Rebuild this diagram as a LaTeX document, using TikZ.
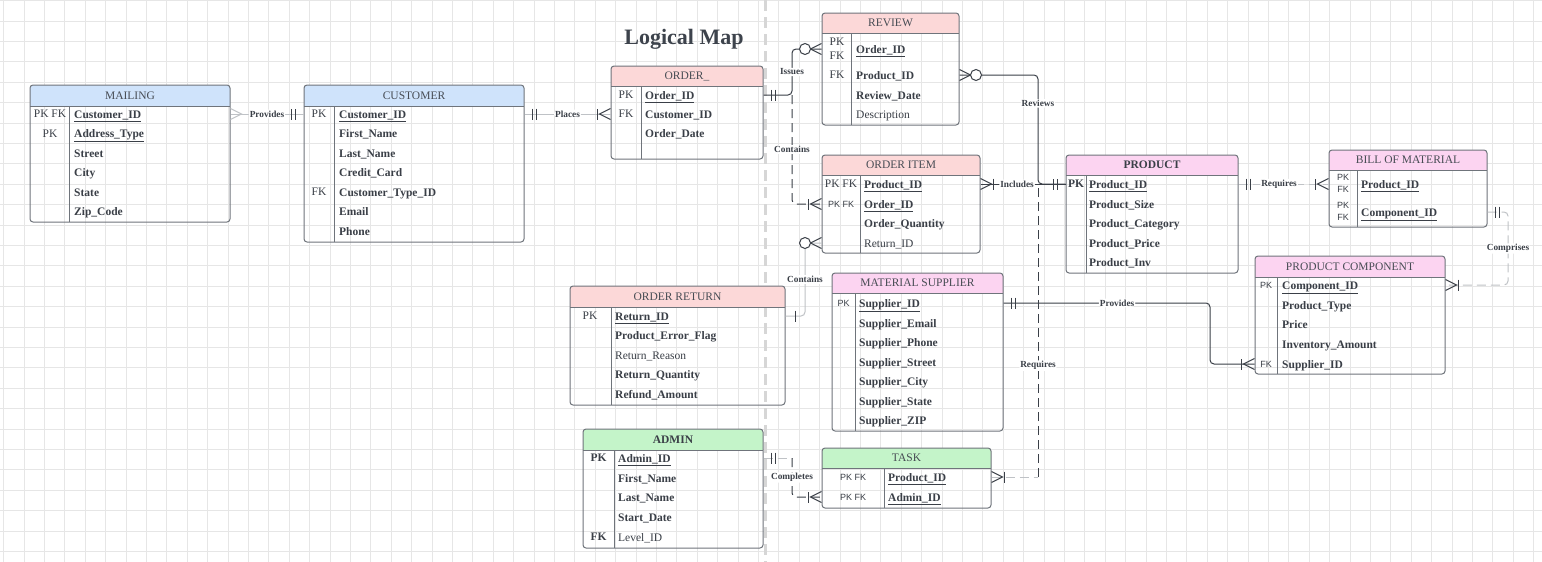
\documentclass[tikz,border=0pt]{standalone}
\usepackage{fontspec}
\setmainfont{Liberation Serif}
\setsansfont{Liberation Sans}
\usetikzlibrary{fit}
\definecolor{txt}{HTML}{3A3F47}
\definecolor{hdrtxt}{HTML}{474C54}
\definecolor{titlec}{HTML}{3D434C}
\definecolor{bord}{HTML}{6F747B}
\definecolor{hblue}{HTML}{CFE3FB}
\definecolor{hred}{HTML}{FCD8D8}
\definecolor{hmag}{HTML}{FCD4F1}
\definecolor{hgreen}{HTML}{C4F4C9}
\definecolor{lnd}{HTML}{3A3F47}
\definecolor{lnl}{HTML}{BFC2C6}
\definecolor{gridc}{HTML}{E6E6E6}
\definecolor{sepc}{HTML}{D6D6D6}
\newcommand\fsA{\fontsize{11.5}{13}\selectfont}
\newcommand\ertab[8]{%
  \fill[#8] (#2,#6) [rounded corners=3pt] -- (#2,#3) -- (#4,#3) [sharp corners] -- (#4,#6) -- cycle;
  \node[fit={(#2,#3) (#4,#5)}, inner sep=0pt, draw=bord, line width=1pt, rounded corners=3pt] (#1) {};
  \draw[bord, line width=1pt] (#2,#6) -- (#4,#6) (#7,#6) -- (#7,#5);
}
\newcommand\arow[5][attr]{\coordinate (#2) at (#3,#4); \node[#1] (#2-t) at (#3,{#4+4}) {#5};}
\tikzset{
 attr/.style={anchor=base west, inner sep=0pt, text=txt, font=\fsA\bfseries},
 attrn/.style={anchor=base west, inner sep=0pt, text=txt, font=\fsA},
 keyl/.style={inner sep=0pt, text=txt, font=\fsA},
 keyb/.style={inner sep=0pt, text=txt, font=\fsA\bfseries},
 keys/.style={inner sep=0pt, text=txt, font=\sffamily\fontsize{9}{10}\selectfont},
 hdr/.style={inner sep=0pt, text=hdrtxt, font=\fsA},
 hdrb/.style={inner sep=0pt, text=txt, font=\fsA\bfseries},
 lbl/.style={fill=white, inner sep=1pt, text=txt, font=\fontsize{9.3}{10}\selectfont\bfseries},
 cdark/.style={draw=lnd, line width=1pt, rounded corners=4pt},
 clight/.style={draw=lnl, line width=1pt, rounded corners=4pt},
 dsh/.style={dash pattern=on 9pt off 5pt},
 endm/.style={line width=1pt},
 pics/cfmany/.style={code={\draw (0,-5.5) -- (11,0) -- (0,5.5);}},
 pics/cfonemany/.style={code={\draw (0,-5.5) -- (11,0) -- (0,5.5); \draw (13,-5.5) -- (13,5.5);}},
 pics/cfzeromany/.style={code={\draw (0,-5.5) -- (11,0) -- (0,5.5); \draw[fill=white] (16.5,0) circle (5.5);}},
 pics/cfoneone/.style={code={\draw (8,-5.5) -- (8,5.5) (12,-5.5) -- (12,5.5);}},
 pics/cfone/.style={code={\draw (10,-5.5) -- (10,5.5);}},
}
\begin{document}
\begin{tikzpicture}[x=1pt,y=-1pt]
\useasboundingbox (0,0) rectangle (1542,562);
\fill[white] (0,0) rectangle (1542,562);
% grid
\foreach \i in {0,...,75} \draw[gridc, line width=0.8pt] ({3.5+20.4*\i},0) -- ({3.5+20.4*\i},562);
\foreach \j in {0,...,27} \draw[gridc, line width=0.8pt] (0,{0.6+20.4*\j}) -- (1542,{0.6+20.4*\j});
% separator
\draw[sepc, line width=3pt, dash pattern=on 11pt off 6pt] (765,0) -- (765,562);
% title
\node[font=\bfseries\fontsize{22}{26}\selectfont, text=titlec] (title) at (684,39) {Logical Map};

% MAILING
\ertab{mailing}{30}{85}{230}{222}{106}{69}{hblue}
\node[hdr] (mailing-h) at (130,95.5) {MAILING};
\node[keyl] (mail-k1) at (50,114) {PK FK};
\node[keyl] (mail-k2) at (50,133.5) {PK};
\arow{mail-a1}{74}{114}{\underline{Customer\_ID}}
\arow{mail-a2}{74}{133.5}{\underline{Address\_Type}}
\arow{mail-a3}{74}{153}{Street}
\arow{mail-a4}{74}{172.5}{City}
\arow{mail-a5}{74}{192}{State}
\arow{mail-a6}{74}{211.5}{Zip\_Code}

% CUSTOMER
\ertab{customer}{304}{85}{524}{242}{106}{334}{hblue}
\node[hdr] (customer-h) at (414,95.5) {CUSTOMER};
\node[keyl] (cust-k1) at (319,114) {PK};
\node[keyl] (cust-k5) at (319,192) {FK};
\arow{cust-a1}{339}{114}{\underline{Customer\_ID}}
\arow{cust-a2}{339}{133.5}{First\_Name}
\arow{cust-a3}{339}{153}{Last\_Name}
\arow{cust-a4}{339}{172.5}{Credit\_Card}
\arow{cust-a5}{339}{192}{Customer\_Type\_ID}
\arow{cust-a6}{339}{211.5}{Email}
\arow{cust-a7}{339}{231}{Phone}

% ORDER_
\ertab{order}{611}{66}{763}{159}{86}{641}{hred}
\node[hdr] (order-h) at (687,76) {ORDER\_};
\node[keyl] (ord-k1) at (626,95) {PK};
\node[keyl] (ord-k2) at (626,114) {FK};
\arow{ord-a1}{645}{95}{\underline{Order\_ID}}
\arow{ord-a2}{645}{114}{Customer\_ID}
\arow{ord-a3}{645}{133.5}{Order\_Date}

% REVIEW
\ertab{review}{822}{13}{959}{125}{33}{851}{hred}
\node[hdr] (review-h) at (890.5,23) {REVIEW};
\node[keyl] (rev-k1) at (837,42) {PK};
\node[keyl] (rev-k2) at (837,56) {FK};
\node[keyl] (rev-k3) at (837,75) {FK};
\arow{rev-a1}{856}{49}{\underline{Order\_ID}}
\arow{rev-a2}{856}{75}{Product\_ID}
\arow{rev-a3}{856}{95}{Review\_Date}
\arow[attrn]{rev-a4}{856}{114}{Description}

% ORDER ITEM
\ertab{oi}{822}{155}{980}{253}{175}{860}{hred}
\node[hdr] (oi-h) at (901,165) {ORDER ITEM};
\node[keyl] (oi-k1) at (841,184) {PK FK};
\node[keys] (oi-k2) at (841,204) {PK FK};
\arow{oi-a1}{864}{184}{\underline{Product\_ID}}
\arow{oi-a2}{864}{204}{\underline{Order\_ID}}
\arow{oi-a3}{864}{223}{Order\_Quantity}
\arow[attrn]{oi-a4}{864}{243}{Return\_ID}

% PRODUCT
\ertab{product}{1066}{155}{1238}{273}{175}{1086}{hmag}
\node[hdrb] (product-h) at (1152,165) {PRODUCT};
\node[keyb] (prod-k1) at (1076,184) {PK};
\arow{prod-a1}{1089}{184}{\underline{Product\_ID}}
\arow{prod-a2}{1089}{204}{Product\_Size}
\arow{prod-a3}{1089}{223}{Product\_Category}
\arow{prod-a4}{1089}{243}{Product\_Price}
\arow{prod-a5}{1089}{262}{Product\_Inv}

% BILL OF MATERIAL
\ertab{bom}{1329}{150}{1487}{227}{170}{1357}{hmag}
\node[hdr] (bom-h) at (1408,160) {BILL OF MATERIAL};
\node[keys] (bom-k1) at (1343,177.5) {PK};
\node[keys] (bom-k2) at (1343,189.5) {FK};
\node[keys] (bom-k3) at (1343,205.5) {PK};
\node[keys] (bom-k4) at (1343,217.5) {FK};
\arow{bom-a1}{1361}{184}{\underline{Product\_ID}}
\arow{bom-a2}{1361}{212}{\underline{Component\_ID}}

% PRODUCT COMPONENT
\ertab{pc}{1255}{256}{1445}{374}{277}{1277}{hmag}
\node[hdr] (pc-h) at (1350,266.5) {PRODUCT COMPONENT};
\node[keys] (pc-k1) at (1266,285) {PK};
\node[keys] (pc-k5) at (1266,364) {FK};
\arow{pc-a1}{1282}{285}{\underline{Component\_ID}}
\arow{pc-a2}{1282}{305}{Product\_Type}
\arow{pc-a3}{1282}{324}{Price}
\arow{pc-a4}{1282}{344}{Inventory\_Amount}
\arow{pc-a5}{1282}{364}{Supplier\_ID}

% MATERIAL SUPPLIER
\ertab{ms}{832}{273}{1003}{431}{293}{855}{hmag}
\node[hdr] (ms-h) at (917.5,283) {MATERIAL SUPPLIER};
\node[keys] (ms-k1) at (843.5,303) {PK};
\arow{ms-a1}{859}{303}{\underline{Supplier\_ID}}
\arow{ms-a2}{859}{323}{Supplier\_Email}
\arow{ms-a3}{859}{342}{Supplier\_Phone}
\arow{ms-a4}{859}{362}{Supplier\_Street}
\arow{ms-a5}{859}{381}{Supplier\_City}
\arow{ms-a6}{859}{401}{Supplier\_State}
\arow{ms-a7}{859}{420}{Supplier\_ZIP}

% ORDER RETURN
\ertab{oret}{570}{286}{785}{405}{307}{611}{hred}
\node[hdr] (oret-h) at (677.5,296.5) {ORDER RETURN};
\node[keyl] (or-k1) at (590,316) {PK};
\arow{or-a1}{615}{316}{\underline{Return\_ID}}
\arow{or-a2}{615}{335}{Product\_Error\_Flag}
\arow[attrn]{or-a3}{615}{355}{Return\_Reason}
\arow{or-a4}{615}{374}{Return\_Quantity}
\arow{or-a5}{615}{394}{Refund\_Amount}

% ADMIN
\ertab{admin}{583}{429}{763}{548}{450}{614}{hgreen}
\node[hdrb] (admin-h) at (673,439.5) {ADMIN};
\node[keyb] (adm-k1) at (598.5,458) {PK};
\node[keyb] (adm-k5) at (598.5,537) {FK};
\arow{adm-a1}{618}{458}{\underline{Admin\_ID}}
\arow{adm-a2}{618}{478}{First\_Name}
\arow{adm-a3}{618}{497}{Last\_Name}
\arow{adm-a4}{618}{517}{Start\_Date}
\arow[attrn]{adm-a5}{618}{537}{Level\_ID}

% TASK
\ertab{task}{822}{448}{991}{508}{468}{884}{hgreen}
\node[hdr] (task-h) at (906.5,458) {TASK};
\node[keys] (task-k1) at (853,477) {PK FK};
\node[keys] (task-k2) at (853,497) {PK FK};
\arow{task-a1}{888}{477}{\underline{Product\_ID}}
\arow{task-a2}{888}{497}{\underline{Admin\_ID}}

% bus coordinates
\coordinate (busA) at (792,0);
\coordinate (busB) at (805,0);
\coordinate (busC) at (1038,0);
\coordinate (busD) at (1508,0);
\coordinate (busE) at (1210,0);

% connectors
\draw[clight] (mailing.east |- mail-a1) -- node[lbl] (l-prov1) {Provides} (customer.west |- cust-a1);
\pic[lnl, endm] at (mailing.east |- mail-a1) {cfmany};
\pic[lnd, endm, rotate=180] at (customer.west |- cust-a1) {cfoneone};

\draw[clight] (customer.east |- cust-a1) -- node[lbl] (l-places) {Places} (order.west |- ord-a2);
\pic[lnd, endm] at (customer.east |- cust-a1) {cfoneone};
\pic[lnd, endm, rotate=180] at (order.west |- ord-a2) {cfonemany};

\draw[cdark] (order.east |- ord-a1) -- (busA |- ord-a1) -- node[lbl] (l-issues) {Issues} (busA |- rev-a1) -- (review.west |- rev-a1);
\pic[lnd, endm] at (order.east |- ord-a1) {cfoneone};
\pic[lnd, endm, rotate=180] at (review.west |- rev-a1) {cfzeromany};

\draw[cdark, dsh] (busA |- ord-a1) -- node[lbl] (l-cont1) {Contains} (busA |- oi-a2) -- (oi.west |- oi-a2);
\pic[lnd, endm, rotate=180] at (oi.west |- oi-a2) {cfonemany};

\draw[clight] (oi.west |- oi-a4) -- (busB |- oi-a4) -- node[lbl] (l-cont2) {Contains} (busB |- or-a1) -- (oret.east |- or-a1);
\pic[lnd, endm, rotate=180] at (oi.west |- oi-a4) {cfzeromany};
\pic[lnd, endm] at (oret.east |- or-a1) {cfone};

\draw[cdark] (oi.east |- oi-a1) -- node[lbl, pos=.43] (l-incl) {Includes} (product.west |- prod-a1);
\pic[lnd, endm] at (oi.east |- oi-a1) {cfonemany};
\pic[lnd, endm, rotate=180] at (product.west |- prod-a1) {cfoneone};

\draw[cdark] (review.east |- rev-a2) -- (busC |- rev-a2) -- node[lbl, pos=.26] (l-rev) {Reviews} (busC |- prod-a1) -- (product.west |- prod-a1);
\pic[lnd, endm] at (review.east |- rev-a2) {cfzeromany};

\draw[clight, dsh] (task.east |- task-a1) -- (busC |- task-a1);
\draw[cdark, dsh] (busC |- task-a1) -- node[lbl, pos=.38] (l-req1) {Requires} (busC |- prod-a1);
\pic[lnd, endm] at (task.east |- task-a1) {cfonemany};

\draw[clight, dsh] (product.east |- prod-a1) -- node[lbl, pos=.45] (l-req2) {Requires} (bom.west |- bom-a1);
\pic[lnd, endm] at (product.east |- prod-a1) {cfoneone};
\pic[lnd, endm, rotate=180] at (bom.west |- bom-a1) {cfonemany};

\draw[clight, dsh] (bom.east |- bom-a2) -- (busD |- bom-a2) -- node[lbl] (l-comp) {Comprises} (busD |- pc-a1) -- (pc.east |- pc-a1);
\pic[lnd, endm] at (bom.east |- bom-a2) {cfoneone};
\pic[lnd, endm] at (pc.east |- pc-a1) {cfonemany};

\draw[cdark] (ms.east |- ms-a1) -- node[lbl, pos=.55] (l-prov2) {Provides} (busE |- ms-a1) -- (busE |- pc-a5) -- (pc.west |- pc-a5);
\pic[lnd, endm] at (ms.east |- ms-a1) {cfoneone};
\pic[lnd, endm, rotate=180] at (pc.west |- pc-a5) {cfonemany};

\draw[clight, dsh] (admin.east |- adm-a1) -- (busA |- adm-a1);
\draw[cdark, dsh] (busA |- adm-a1) -- node[lbl] (l-compl) {Completes} (busA |- task-a2) -- (task.west |- task-a2);
\pic[lnd, endm] at (admin.east |- adm-a1) {cfoneone};
\pic[lnd, endm, rotate=180] at (task.west |- task-a2) {cfonemany};
\end{tikzpicture}
\end{document}
